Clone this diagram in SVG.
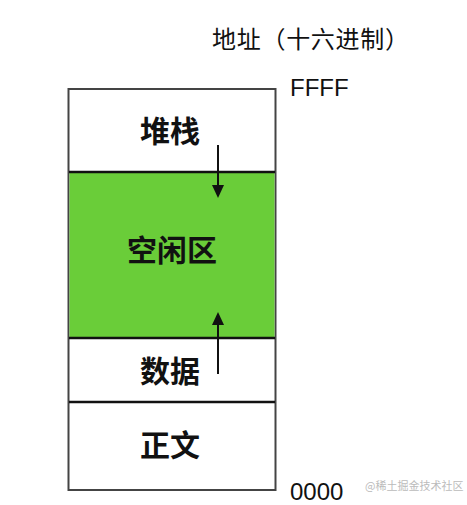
<svg xmlns="http://www.w3.org/2000/svg" width="467" height="505" viewBox="0 0 467 505">
<style>
.lbl{font-family:"Noto Sans CJK SC","Noto Sans",sans-serif;font-size:30px;font-weight:bold;fill:#111;text-anchor:middle}
.addr{font-family:"Noto Sans CJK SC","Liberation Sans",sans-serif;font-size:24px;fill:#111}
.num{font-family:"Liberation Sans",sans-serif;font-size:24px;fill:#111}
.sep{stroke:#111;stroke-width:2.5}
.arr{stroke:#111;stroke-width:2;fill:none}
</style>
<rect width="467" height="505" fill="#fff"/>
<g id="memory">
<rect x="68.5" y="89" width="207" height="401" fill="#fff" stroke="#444" stroke-width="2"/>
</g>
<g id="free">
<rect x="69.5" y="172" width="205" height="166" fill="#6acd39"/>
<text class="lbl" x="172" y="261">空闲区</text>
</g>
<g id="stack">
<text class="lbl" x="170" y="142">堆栈</text>
</g>
<g id="data">
<text class="lbl" x="170" y="382">数据</text>
</g>
<g id="text-seg">
<text class="lbl" x="170" y="456">正文</text>
</g>
<g id="separators">
<line class="sep" x1="69" y1="172" x2="275" y2="172"/>
<line class="sep" x1="69" y1="338" x2="275" y2="338"/>
<line class="sep" x1="69" y1="402" x2="275" y2="402"/>
</g>
<g id="connectors">
<path d="M218,145 L218,186" class="arr"/>
<path d="M212,185 L224,185 L218,198 z" fill="#111"/>
<path d="M218,374 L218,324" class="arr"/>
<path d="M212,325 L224,325 L218,312 z" fill="#111"/>
</g>
<g id="labels">
<text class="addr" x="212" y="48" textLength="197" lengthAdjust="spacing">地址（十六进制）</text>
<text class="num" x="290" y="96">FFFF</text>
<text class="num" x="290" y="500">0000</text>
<text x="365" y="490" style="font-family:'Noto Sans CJK SC',sans-serif;font-size:11px;fill:#bbb">@稀土掘金技术社区</text>
</g>
</svg>
